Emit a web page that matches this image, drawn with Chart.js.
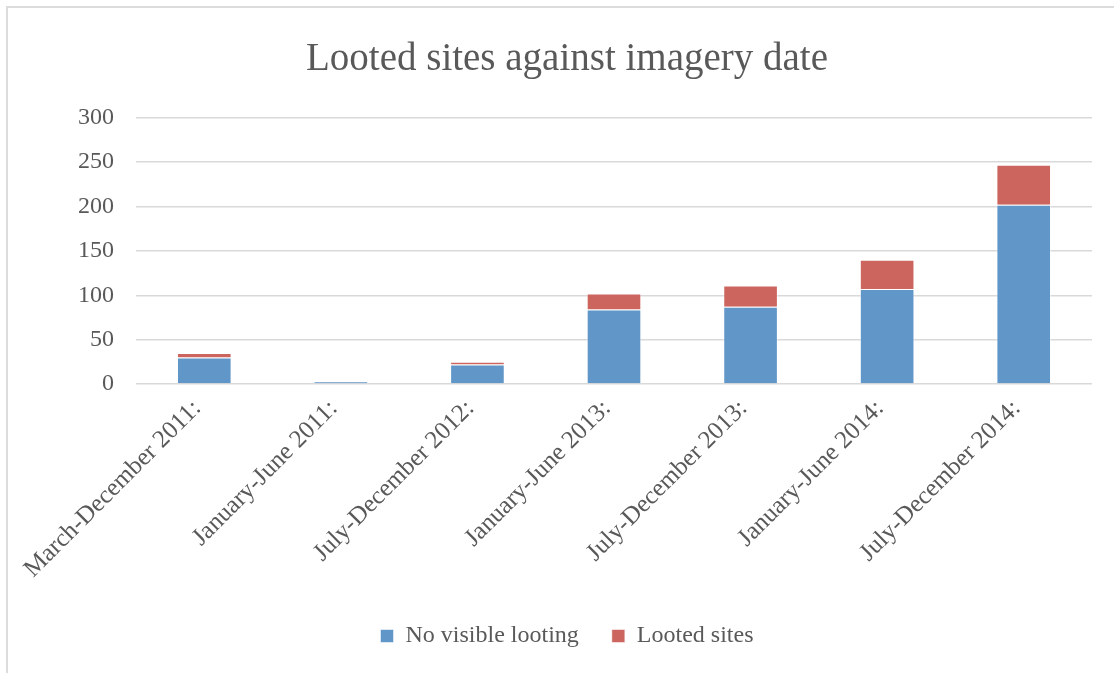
<!DOCTYPE html>
<html>
<head>
<meta charset="utf-8">
<script src="https://cdn.jsdelivr.net/npm/chart.js@4/dist/chart.umd.min.js"></script>
<style>
  html, body { margin: 0; padding: 0; background: #fff; overflow: hidden; }
  .frame {
    position: absolute; left: 6px; top: 6px;
    width: 2000px; height: 2000px;
    border-left: 2px solid #dcdcdc; border-top: 2px solid #dcdcdc;
  }
  .wrap { position: absolute; left: 0; top: 0; width: 1114px; height: 673px; }
</style>
</head>
<body>
<div class="frame"></div>
<div class="wrap"><canvas id="lootChart"></canvas></div>
<script>
const periods = [
    'March-December 2011:',
    'January-June 2011:',
    'July-December 2012:',
    'January-June 2013:',
    'July-December 2013:',
    'January-June 2014:',
    'July-December 2014:'
];

const noVisibleLooting = [30, 3, 22, 84, 87, 107, 202];
const lootedSites      = [5, 0, 3, 18, 24, 33, 45];

const yTicks = [0, 50, 100, 150, 200, 250, 300];

const TEXT  = '#595959';
const GRID  = '#d9d9d9';
const BLUE  = '#6096c8';
const RED   = '#cc655e';

Chart.defaults.font.family = "'Liberation Serif', serif";
Chart.defaults.color = TEXT;

new Chart(document.getElementById('lootChart'), {
    type: 'bar',
    data: {
        labels: periods,
        datasets: [
            {
                label: 'No visible looting',
                data: noVisibleLooting,
                backgroundColor: BLUE,
                borderColor: 'rgba(255,255,255,0.5)',
                borderWidth: 1
            },
            {
                label: 'Looted sites',
                data: lootedSites,
                backgroundColor: RED,
                borderColor: 'rgba(255,255,255,0.5)',
                borderWidth: 1
            }
        ]
    },
    options: {
        responsive: true,
        maintainAspectRatio: false,
        animation: false,
        barPercentage: 0.4,
        categoryPercentage: 1,
        layout: { padding: { left: 42, right: 22, top: 0, bottom: 15 } },
        plugins: {
            title: {
                display: true,
                text: 'Looted sites against imagery date',
                color: TEXT,
                font: { size: 39, weight: 'normal' },
                padding: { top: 36, bottom: 35 }
            },
            legend: {
                position: 'bottom',
                labels: {
                    color: TEXT,
                    boxWidth: 13,
                    boxHeight: 13,
                    padding: 33,
                    font: { size: 24 }
                }
            },
            tooltip: { enabled: false }
        },
        scales: {
            x: {
                stacked: true,
                grid: { display: false },
                border: { display: false },
                ticks: {
                    autoSkip: false,
                    maxRotation: 45,
                    minRotation: 45,
                    padding: 2,
                    labelOffset: -7,
                    color: TEXT,
                    font: { size: 25 }
                },
                afterFit: (scale) => { scale.height = 207; }
            },
            y: {
                stacked: true,
                min: 0,
                max: 300,
                afterBuildTicks: (scale) => {
                    scale.ticks = yTicks.map(v => ({ value: v }));
                },
                grid: { color: GRID, lineWidth: 1.5, drawTicks: false },
                border: { display: false },
                ticks: {
                    padding: 22,
                    color: TEXT,
                    font: { size: 24 }
                },
                afterFit: (scale) => { scale.width = 94; }
            }
        }
    }
});
</script>
</body>
</html>
